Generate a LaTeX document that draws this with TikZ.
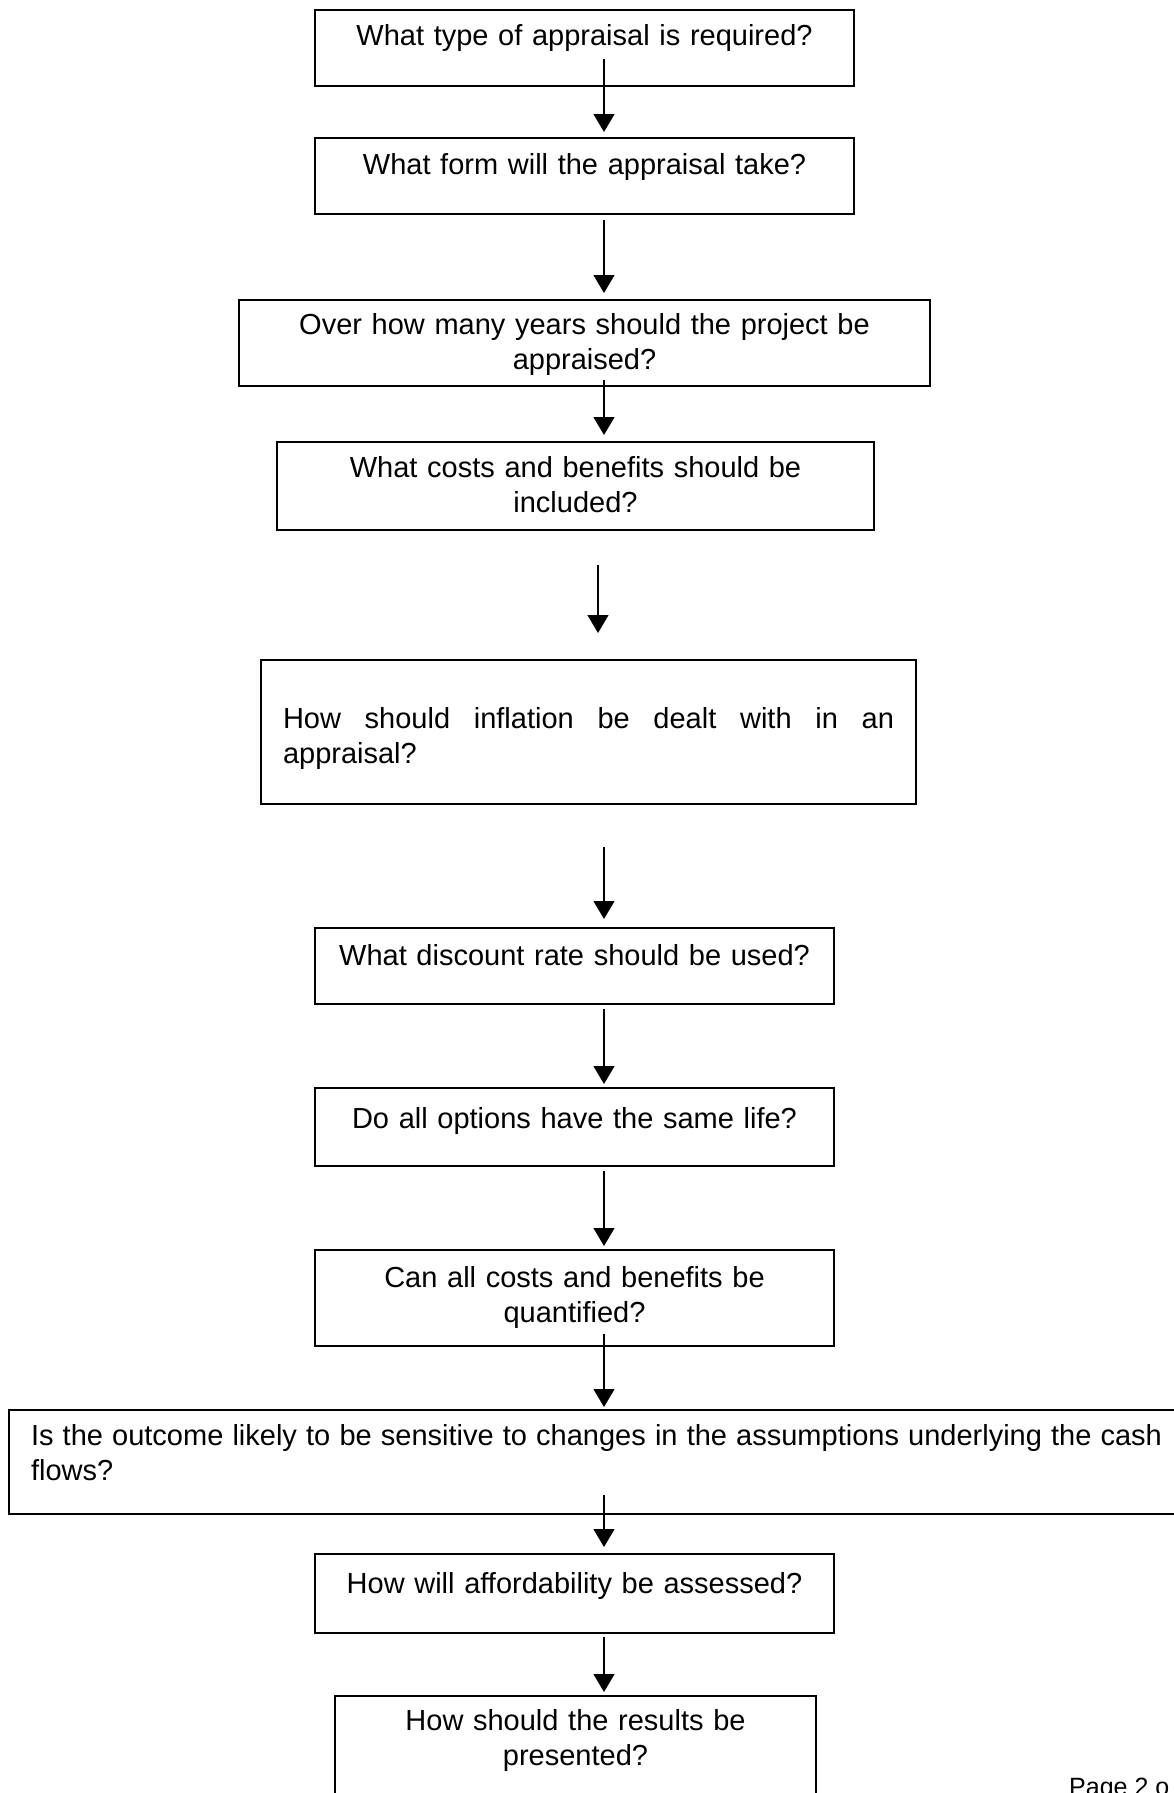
\documentclass[tikz,border=0pt]{standalone}
\usepackage{fontspec}
\setmainfont{Liberation Sans}
\usetikzlibrary{positioning,calc,arrows.meta}
\newcommand{\qfont}{\fontsize{29}{35}\selectfont}
\tikzset{
	qbox/.style={draw, line width=1.6pt, anchor=north, inner xsep=20pt, inner ysep=0pt, align=center, font=\qfont,
		execute at begin node={\hyphenpenalty=10000\exhyphenpenalty=10000\relax}},
	qjust/.style={qbox, inner xsep=22pt, align=justify,
		execute at begin node={\tolerance=9999\hyphenpenalty=10000\relax}},
	flow/.style={line width=1.3pt, -{Triangle[width=21pt,length=18pt]}}
}

\begin{document}
\begin{tikzpicture}[x=1pt, y=-1pt]
	\useasboundingbox (0,0) rectangle (1174,1793);
	\coordinate (spine) at (604,0);
	\coordinate (spine2) at (598,0);

	\node[qbox, text width=499pt, text height=36pt, text depth=40pt] (type) at (584.5,9) {What type of appraisal is required?};
	\node[qbox, text width=499pt, text height=37pt, text depth=39pt] (form) at (584.5,137) {What form will the appraisal take?};
	\node[qbox, text width=651pt, text height=35pt, text depth=51pt] (years) at (584.5,299) {Over how many years should the project be\\ appraised?};
	\node[qbox, text width=557pt, text height=36pt, text depth=52pt] (costs) at (575.5,441) {What costs and benefits should be\\ included?};
	\node[qjust, text width=611pt, text height=69pt, text depth=75pt] (infl) at (588.5,659) {How should inflation be dealt with in an appraisal?};
	\node[qbox, text width=479pt, text height=38pt, text depth=38pt] (rate) at (574.5,927) {What discount rate should be used?};
	\node[qbox, text width=479pt, text height=41pt, text depth=37pt] (life) at (574.5,1087) {Do all options have the same life?};
	\node[qbox, text width=479pt, text height=38pt, text depth=58pt] (quant) at (574.5,1249) {Can all costs and benefits be\\ quantified?};
	\node[qjust, text width=1131pt, text height=36pt, text depth=68pt] (sens) at (596.5,1409) {Is the outcome likely to be sensitive to changes in the assumptions underlying the cash flows?};
	\node[qbox, text width=479pt, text height=40pt, text depth=39pt] (afford) at (574.5,1553) {How will affordability be assessed?\hspace*{32pt}};
	\node[qbox, text width=441pt, text height=35pt, text depth=110pt] (results) at (575.5,1695) {How should the results be\\ presented?};

	\node[anchor=base west, inner sep=0pt, font=\fontsize{25}{30}\selectfont] (page) at (1069,1795) {Page 2 o};

	\draw[flow] ([yshift=28pt]type.south -| spine) -- ([yshift=5pt]form.north -| spine);
	\draw[flow] ([yshift=-5pt]form.south -| spine) -- ([yshift=6pt]years.north -| spine);
	\draw[flow] ([yshift=7pt]years.south -| spine) -- ([yshift=6pt]costs.north -| spine);
	\draw[flow] ([yshift=-34pt]costs.south -| spine2) -- ([yshift=26pt]infl.north -| spine2);
	\draw[flow] ([yshift=-42pt]infl.south -| spine) -- ([yshift=8pt]rate.north -| spine);
	\draw[flow] ([yshift=-4pt]rate.south -| spine) -- ([yshift=3pt]life.north -| spine);
	\draw[flow] ([yshift=-4pt]life.south -| spine) -- ([yshift=3pt]quant.north -| spine);
	\draw[flow] ([yshift=13pt]quant.south -| spine) -- ([yshift=2pt]sens.north -| spine);
	\draw[flow] ([yshift=20pt]sens.south -| spine) -- ([yshift=6pt]afford.north -| spine);
	\draw[flow] ([yshift=-3pt]afford.south -| spine) -- ([yshift=3pt]results.north -| spine);
\end{tikzpicture}
\end{document}
